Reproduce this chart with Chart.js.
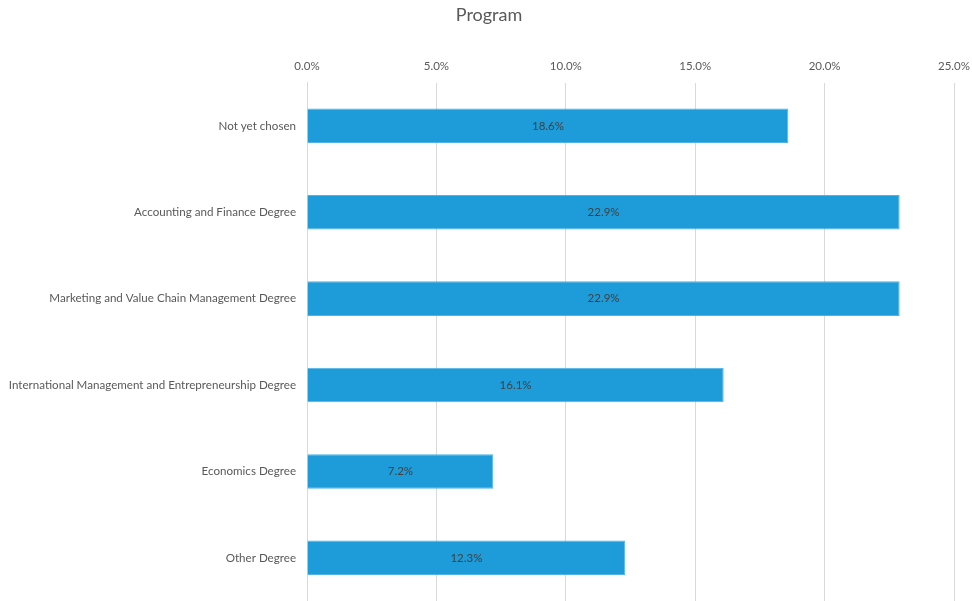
<!DOCTYPE html>
<html>
<head>
<meta charset="utf-8">
<script src="https://cdn.jsdelivr.net/npm/chart.js@4"></script>
<style>
  html, body { margin: 0; padding: 0; background: #fff; overflow: hidden; }
  #box { width: 972px; height: 619px; }
</style>
</head>
<body>
<div id="box"><canvas id="grafico"></canvas></div>
<script>
// Categorias e valores (percentual de alunos por programa)
const programas = [
    'Not yet chosen',
    'Accounting and Finance Degree',
    'Marketing and Value Chain Management Degree',
    'International Management and Entrepreneurship Degree',
    'Economics Degree',
    'Other Degree'
];
const percentuais = [18.6, 22.9, 22.9, 16.1, 7.2, 12.3];
const tituloGrafico = 'Program';

const corTexto = '#595959';
const fonte = "Lato, 'Open Sans', sans-serif";

// Escreve o valor no meio de cada barra
const rotulosBarras = {
    id: 'rotulos_barras',
    afterDatasetsDraw(chart) {
        const ctx = chart.ctx;
        const meta = chart.getDatasetMeta(0);
        ctx.save();
        ctx.font = '11.5px ' + fonte;
        ctx.fillStyle = '#404040';
        ctx.textAlign = 'center';
        ctx.textBaseline = 'middle';
        meta.data.forEach((bar, i) => {
            const x = (bar.base + bar.x) / 2;
            ctx.fillText(percentuais[i].toFixed(1) + '%', x, bar.y);
        });
        ctx.restore();
    }
};

const ctx = document.getElementById('grafico').getContext('2d');
new Chart(ctx, {
    type: 'bar',
    data: {
        labels: programas,
        datasets: [{
            data: percentuais,
            backgroundColor: '#1E9CD9',
            borderColor: '#4FB3E3',
            borderWidth: 1,
            categoryPercentage: 1,
            barPercentage: 0.4
        }]
    },
    options: {
        indexAxis: 'y',
        responsive: true,
        maintainAspectRatio: false,
        animation: false,
        // padding à esquerda empurra o título um pouco para a direita
        layout: { padding: { left: 6, right: 0, top: 0, bottom: 0 } },
        plugins: {
            legend: { display: false },
            tooltip: { enabled: false },
            title: {
                display: true,
                text: tituloGrafico,
                color: corTexto,
                font: { family: fonte, size: 18, weight: 'normal' },
                padding: { top: 4, bottom: 0 }
            }
        },
        scales: {
            x: {
                position: 'top',
                min: 0,
                max: 25,
                ticks: {
                    stepSize: 5,
                    color: corTexto,
                    font: { family: fonte, size: 11.5 },
                    padding: 9,
                    maxRotation: 0,
                    callback: v => v.toFixed(1) + '%'
                },
                grid: { color: '#D9D9D9', drawTicks: false },
                border: { display: false },
                afterFit: scale => {
                    scale.height = 57;
                    // reserva espaço para o rótulo "25.0%" à direita
                    scale.paddingLeft = 0;
                    scale.paddingRight = 18;
                }
            },
            y: {
                ticks: {
                    color: corTexto,
                    font: { family: fonte, size: 11.6 },
                    padding: 11
                },
                grid: { display: false, drawTicks: false },
                border: { color: '#D9D9D9' },
                afterFit: scale => { scale.width = 301; }
            }
        }
    },
    plugins: [rotulosBarras]
});
</script>
</body>
</html>
